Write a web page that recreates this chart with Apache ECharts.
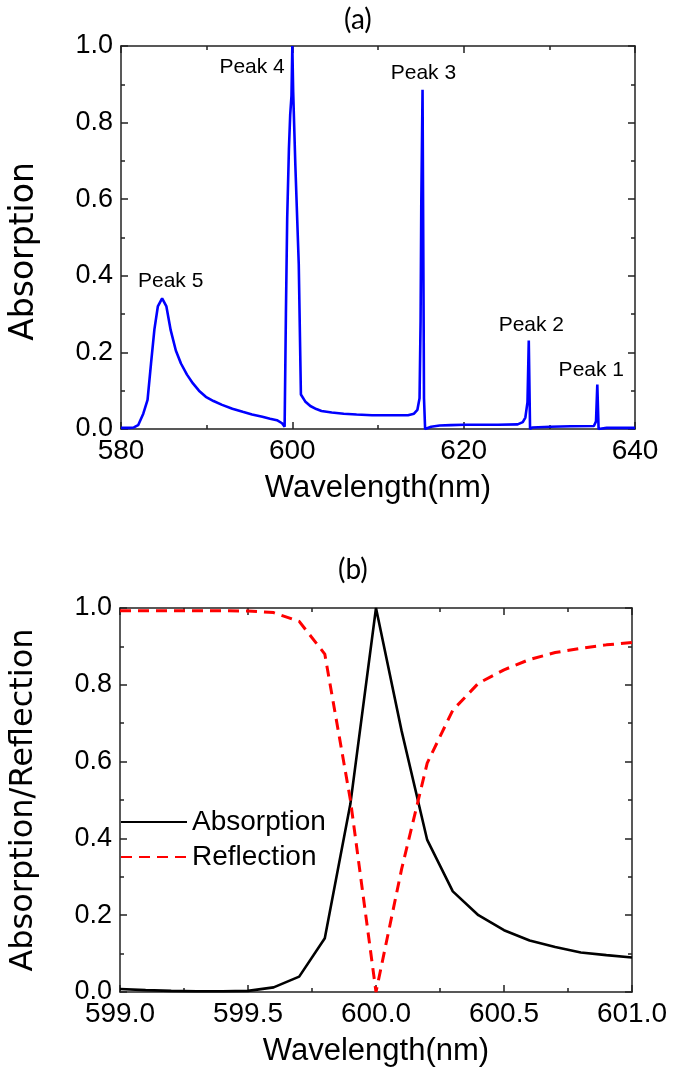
<!DOCTYPE html>
<html>
<head>
<meta charset="utf-8">
<script src="https://cdn.jsdelivr.net/npm/echarts@6/dist/echarts.min.js"></script>
<style>
html,body{margin:0;padding:0;background:#fff;}
#chart{width:675px;height:1076px;}
</style>
</head>
<body>
<div id="chart"></div>
<script>
// ---- Panel (a): absorption spectrum ----
var wavelengthA = [580.0, 581.0, 581.5, 582.0, 582.6, 583.1, 583.5, 583.9, 584.3, 584.8, 585.3, 585.8, 586.4, 587.0, 587.7, 588.4, 589.1, 589.9, 590.8, 591.8, 593.0, 594.2, 595.3, 596.5, 597.4, 598.2, 598.8, 599.1, 599.25, 599.4, 599.6, 599.75, 599.9, 600.0, 600.1, 600.35, 600.75, 601.0, 601.5, 602.1, 602.8, 603.4, 604.6, 606.0, 607.5, 609.3, 611.5, 613.5, 614.2, 614.6, 614.85, 614.97, 615.05, 615.2, 615.37, 615.5, 616.2, 617.2, 618.5, 620.0, 622.0, 624.0, 626.3, 626.9, 627.2, 627.45, 627.6, 627.75, 628.0, 630.1, 632.5, 635.2, 635.45, 635.6, 635.75, 636.7, 640.0];
var absorptionA = [0.003, 0.003, 0.004, 0.010, 0.040, 0.076, 0.170, 0.260, 0.320, 0.341, 0.320, 0.258, 0.205, 0.171, 0.142, 0.119, 0.100, 0.084, 0.073, 0.063, 0.053, 0.045, 0.038, 0.032, 0.027, 0.023, 0.015, 0.006, 0.300, 0.550, 0.730, 0.820, 0.870, 1.000, 0.880, 0.690, 0.430, 0.090, 0.072, 0.060, 0.052, 0.047, 0.043, 0.040, 0.038, 0.036, 0.036, 0.036, 0.040, 0.050, 0.080, 0.280, 0.580, 0.886, 0.080, 0.000, 0.006, 0.009, 0.010, 0.011, 0.011, 0.011, 0.012, 0.018, 0.030, 0.070, 0.231, 0.000, 0.004, 0.006, 0.007, 0.008, 0.020, 0.116, 0.000, 0.003, 0.003];
var peakNames = ["Peak 5", "Peak 4", "Peak 3", "Peak 2", "Peak 1"];
var peakLabelX = [585.8, 595.3, 615.3, 627.9, 634.9];
var peakLabelY = [0.386, 0.945, 0.930, 0.272, 0.154];
var xTicksA = [580, 600, 620, 640];

// ---- Panel (b): absorption / reflection near 600 nm ----
var wavelengthB = [599.0, 599.1, 599.2, 599.3, 599.4, 599.5, 599.6, 599.7, 599.8, 599.9, 600.0, 600.1, 600.2, 600.3, 600.4, 600.5, 600.6, 600.7, 600.8, 600.9, 601.0];
var absorptionB = [0.008, 0.005, 0.003, 0.002, 0.002, 0.003, 0.012, 0.040, 0.140, 0.490, 1.000, 0.680, 0.396, 0.262, 0.200, 0.161, 0.134, 0.117, 0.103, 0.096, 0.090];
var reflectionB = [0.993, 0.993, 0.993, 0.993, 0.993, 0.992, 0.988, 0.965, 0.880, 0.500, 0.000, 0.320, 0.596, 0.734, 0.804, 0.839, 0.866, 0.884, 0.895, 0.904, 0.910];
var seriesNamesB = ["Absorption", "Reflection"];

function pairs(xs, ys){ return xs.map(function(x,i){ return [x, ys[i]]; }); }

var FONT = "Liberation Sans, Arial, sans-serif";
var AX = '#222';

function xAxisCfg(grid, min, max, interval, fmt, name){
  return [{
    gridIndex: grid, type: 'value', min: min, max: max, interval: interval, position: 'bottom',
    axisLine: {show: true, onZero: false, lineStyle: {color: AX, width: 1.5}},
    axisTick: {show: true, inside: true, length: 7, lineStyle: {color: AX, width: 1.5}},
    minorTick: {show: true, splitNumber: 2, length: 4, lineStyle: {color: AX, width: 1.5}},
    splitLine: {show: false},
    axisLabel: {show: true, color: '#000', fontSize: 28, fontFamily: FONT, margin: 8, formatter: fmt},
    name: name, nameLocation: 'middle', nameGap: 44,
    nameTextStyle: {color: '#000', fontSize: 31, fontFamily: FONT}
  }, {
    gridIndex: grid, type: 'value', min: min, max: max, interval: interval, position: 'top',
    axisLine: {show: true, onZero: false, lineStyle: {color: AX, width: 1.5}},
    axisTick: {show: true, inside: true, length: 7, lineStyle: {color: AX, width: 1.5}},
    minorTick: {show: true, splitNumber: 2, length: 4, lineStyle: {color: AX, width: 1.5}},
    splitLine: {show: false}, axisLabel: {show: false}
  }];
}
function yAxisCfg(grid, name, fs, pad){
  return [{
    gridIndex: grid, type: 'value', min: 0, max: 1, interval: 0.2, position: 'left',
    axisLine: {show: true, onZero: false, lineStyle: {color: AX, width: 1.5}},
    axisTick: {show: true, inside: true, length: 7, lineStyle: {color: AX, width: 1.5}},
    minorTick: {show: true, splitNumber: 2, length: 4, lineStyle: {color: AX, width: 1.5}},
    splitLine: {show: false},
    axisLabel: {show: true, color: '#000', fontSize: 27, fontFamily: FONT, margin: 8,
      formatter: function(v){ return v.toFixed(1); }},
    name: name, nameLocation: 'middle', nameGap: 80, nameRotate: 90,
    nameTextStyle: {color: '#000', fontSize: fs, fontFamily: "DejaVu Sans, sans-serif", padding: pad}
  }, {
    gridIndex: grid, type: 'value', min: 0, max: 1, interval: 0.2, position: 'right',
    axisLine: {show: true, onZero: false, lineStyle: {color: AX, width: 1.5}},
    axisTick: {show: true, inside: true, length: 7, lineStyle: {color: AX, width: 1.5}},
    minorTick: {show: true, splitNumber: 2, length: 4, lineStyle: {color: AX, width: 1.5}},
    splitLine: {show: false}, axisLabel: {show: false}
  }];
}

var xa = xAxisCfg(0, 580, 640, 20, function(v){ return String(v); }, 'Wavelength(nm)');
var xb = xAxisCfg(1, 599, 601, 0.5, function(v){ return v.toFixed(1); }, 'Wavelength(nm)');
var ya = yAxisCfg(0, 'Absorption', 33, [0, 28, 0, 0]);
var yb = yAxisCfg(1, 'Absorption/Reflection', 32, [0, 0, 0, 0]);

var chart = echarts.init(document.getElementById('chart'), null, {renderer: 'canvas'});
chart.setOption({
  animation: false,
  backgroundColor: '#fff',
  title: [
    {text: '(a)', left: 339, top: 1, textStyle: {fontSize: 28, fontWeight: 'normal', color: '#000', fontFamily: 'Lato, Open Sans, sans-serif'}},
    {text: '(b)', left: 333, top: 551, textStyle: {fontSize: 28, fontWeight: 'normal', color: '#000', fontFamily: 'Lato, Open Sans, sans-serif'}}
  ],
  grid: [
    {left: 118, top: 46, width: 517, height: 383},
    {left: 116, top: 608, width: 516, height: 384}
  ],
  legend: {
    data: seriesNamesB, orient: 'vertical', left: 115, top: 803,
    itemWidth: 66, itemHeight: 14, itemGap: 7,
    itemStyle: {opacity: 0, borderWidth: 0},
    textStyle: {fontSize: 28, color: '#000', fontFamily: FONT}
  },
  xAxis: [xa[0], xa[1], xb[0], xb[1]],
  yAxis: [ya[0], ya[1], yb[0], yb[1]],
  series: [
    {
      type: 'line', name: 'Absorption (a)', xAxisIndex: 0, yAxisIndex: 0,
      data: pairs(wavelengthA, absorptionA), symbol: 'none', smooth: false,
      lineStyle: {color: '#0000ff', width: 2.6}, itemStyle: {color: '#0000ff'},
      markPoint: {
        symbol: 'circle', symbolSize: 0, silent: true,
        label: {show: true, position: 'inside', color: '#000', fontSize: 21, fontFamily: FONT,
          formatter: function(p){ return p.name; }},
        data: peakNames.map(function(n, i){ return {name: n, coord: [peakLabelX[i], peakLabelY[i]]}; })
      }
    },
    {
      type: 'line', name: seriesNamesB[0], xAxisIndex: 2, yAxisIndex: 2,
      data: pairs(wavelengthB, absorptionB), symbol: 'none',
      lineStyle: {color: '#000', width: 2.6}, itemStyle: {color: '#000'}
    },
    {
      type: 'line', name: seriesNamesB[1], xAxisIndex: 2, yAxisIndex: 2,
      data: pairs(wavelengthB, reflectionB), symbol: 'none',
      lineStyle: {color: '#ff0000', width: 3, type: [11, 7]}, itemStyle: {color: '#ff0000'}
    }
  ]
});
</script>
</body>
</html>
